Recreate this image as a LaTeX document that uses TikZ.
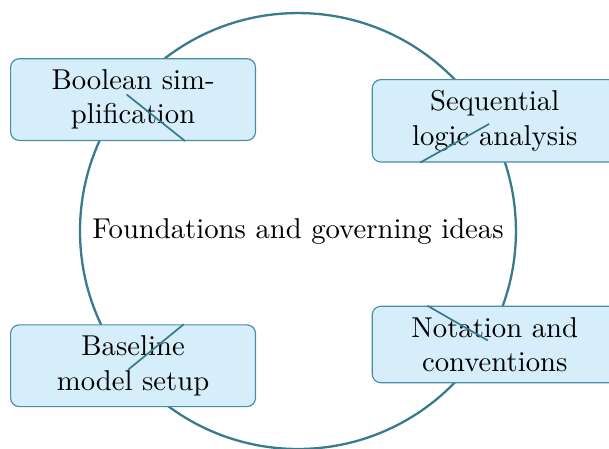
\documentclass[tikz,border=0pt]{standalone}
\usetikzlibrary{positioning}

\definecolor{ringblue}{HTML}{3A7A8E}
\definecolor{boxfill}{HTML}{D6EEF9}
\definecolor{boxline}{HTML}{4A8CA3}

\begin{document}
\begin{tikzpicture}[
    topic/.style={draw=boxline, fill=boxfill, thin, rounded corners=3pt,
        text width=58.2pt, align=center, minimum width=3cm,
        inner ysep=3.8pt},
    spoke/.style={draw=ringblue, semithick}
]

    % Fix the frame of the picture
    \useasboundingbox (-3.65,-2.66) rectangle (3.81,2.83);

    % Draw the central circle with its title
    \node[draw=ringblue, thick, circle, minimum size=5.34cm] (hub) at (0,0)
        {Foundations and governing ideas};

    % Place the four topics around the circle
    \node[topic] (bool) at (-2.02,1.61) {Boolean simplification};
    \node[topic] (seq) at (2.41,1.35) {Sequential logic analysis};
    \node[topic] (base) at (-2.02,-1.65) {Baseline model setup};
    \node[topic] (nota) at (2.41,-1.39) {Notation and conventions};

    % Connect the circle to each topic
    \draw[spoke] (hub) -- (bool);
    \draw[spoke] (hub) -- (seq);
    \draw[spoke] (hub) -- (base);
    \draw[spoke] (hub) -- (nota);

\end{tikzpicture}
\end{document}
